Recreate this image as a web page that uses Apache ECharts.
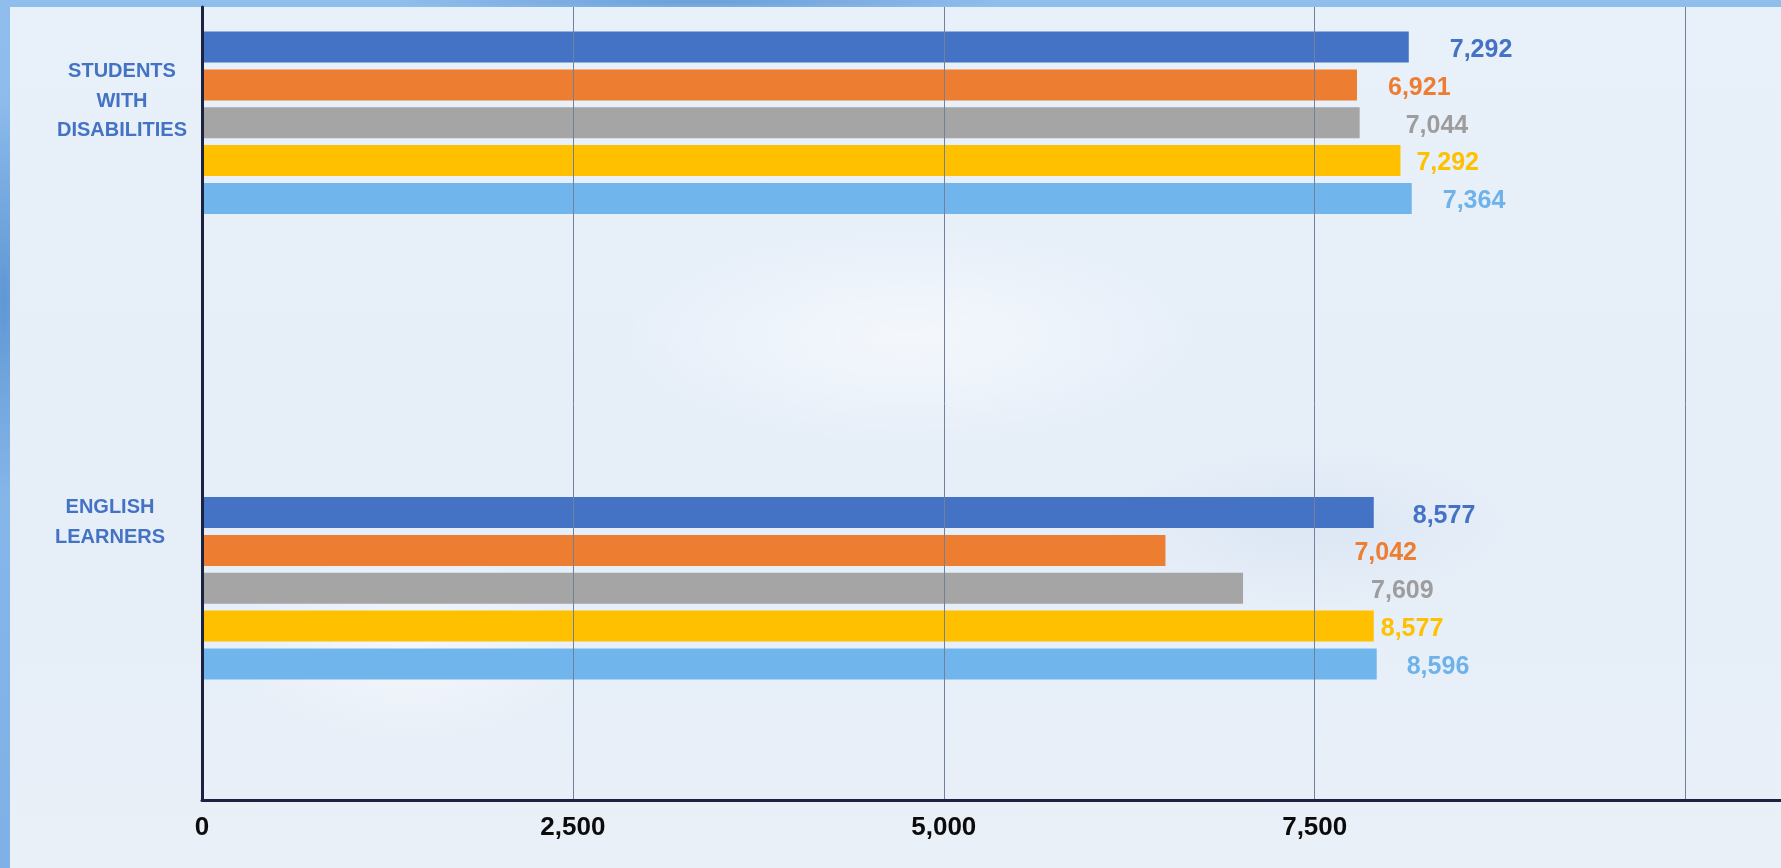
<!DOCTYPE html>
<html>
<head>
<meta charset="utf-8">
<script src="https://cdn.jsdelivr.net/npm/echarts@6/dist/echarts.min.js"></script>
<style>
  html, body { margin: 0; padding: 0; width: 1781px; height: 868px; overflow: hidden; }
  body {
    background:
      radial-gradient(ellipse 40px 200px at 4px 300px, #5f97d4 0%, rgba(95,151,212,0) 100%),
      radial-gradient(ellipse 300px 10px at 700px 2px, #6a9fd8 0%, rgba(106,159,216,0) 100%),
      linear-gradient(180deg, #8fbdec, #7fb1e6);
  }
  #panel {
    position: absolute; left: 10px; top: 7px; right: 0; bottom: 0;
    background:
      radial-gradient(ellipse 420px 160px at 900px 330px, rgba(255,255,255,0.55), rgba(255,255,255,0) 70%),
      radial-gradient(ellipse 300px 120px at 1300px 520px, rgba(210,224,240,0.5), rgba(210,224,240,0) 70%),
      radial-gradient(ellipse 260px 140px at 400px 640px, rgba(255,255,255,0.5), rgba(255,255,255,0) 70%),
      linear-gradient(180deg, #e8f0f9, #e6eef8 60%, #e9f0f8);
  }
  #chart { position: absolute; left: 0; top: 0; width: 1781px; height: 868px; }
</style>
</head>
<body>
<div id="panel"></div>
<div id="chart"></div>
<script>
// categories, top to bottom
const categories = ['STUDENTS\nWITH\nDISABILITIES', 'ENGLISH\nLEARNERS']
const seriesNames = ['Series 1', 'Series 2', 'Series 3', 'Series 4', 'Series 5']
// bar lengths as drawn against the axis
const barsSWD = [8134, 7785, 7803, 8078, 8154]
const barsEL = [7898, 6494, 7017, 7898, 7918]
// values printed next to the bars
const labelsSWD = [7292, 6921, 7044, 7292, 7364]
const labelsEL = [8577, 7042, 7609, 8577, 8596]
// x axis tick labels shown
const xTickLabels = [0, 2500, 5000, 7500]

const colors = ['#4472C4', '#ED7D31', '#A5A5A5', '#FFC000', '#70B5EC']
const labelColors = ['#4472C4', '#ED7D31', '#9D9D9D', '#FFC000', '#6DB3EA']
// horizontal shift of each printed value from its bar end (px)
const gapSWD = [41, 31, 46, 16, 31]
const gapEL = [39, 189, 128, 7, 30]

const font = '"Liberation Sans", Arial, sans-serif'
const xMax = 10643

const chart = echarts.init(document.getElementById('chart'))

const series = seriesNames.map((name, i) => ({
  name: name,
  type: 'bar',
  xAxisIndex: 1,
  yAxisIndex: 1,
  barWidth: 31,
  barGap: '22%',
  itemStyle: { color: colors[i] },
  label: {
    show: true,
    position: 'right',
    distance: 0,
    color: labelColors[i],
    fontFamily: font,
    fontWeight: 'bold',
    fontSize: 25,
    formatter: (p) => {
      const v = p.dataIndex === 0 ? labelsSWD[i] : labelsEL[i]
      return v.toLocaleString('en-US')
    }
  },
  data: [
    { value: barsSWD[i], label: { offset: [gapSWD[i], 3] } },
    { value: barsEL[i], label: { offset: [gapEL[i], 3] } }
  ]
}))

const catText = {
  align: 'center',
  verticalAlign: 'middle',
  color: '#4472C4',
  fontFamily: font,
  fontWeight: 'bold',
  fontSize: 20,
  lineHeight: 29.5
}

chart.setOption({
  animation: false,
  grid: [
    { left: 202, right: 0, top: 7, bottom: 68, outerBoundsMode: 'none' },
    { left: 202, right: 0, top: -110, height: 931, outerBoundsMode: 'none' }
  ],
  xAxis: [
    {
      gridIndex: 0,
      type: 'value',
      min: 0,
      max: xMax,
      interval: 2500,
      z: 10,
      axisLine: { show: true, lineStyle: { color: '#1b2340', width: 3 } },
      axisTick: { show: false },
      splitLine: { show: true, lineStyle: { color: '#728099', width: 1 } },
      axisLabel: {
        margin: 15,
        color: '#0b0b0b',
        fontFamily: font,
        fontWeight: 'bold',
        fontSize: 26,
        formatter: (v) => xTickLabels.indexOf(v) >= 0 ? v.toLocaleString('en-US') : ''
      }
    },
    { gridIndex: 1, type: 'value', min: 0, max: xMax, show: false }
  ],
  yAxis: [
    {
      gridIndex: 0,
      type: 'category',
      data: categories,
      z: 10,
      axisLine: { show: true, lineStyle: { color: '#1b2340', width: 3 } },
      axisTick: { show: false },
      axisLabel: { show: false },
      splitLine: { show: false }
    },
    {
      gridIndex: 1,
      type: 'category',
      inverse: true,
      data: [
        { value: categories[0], textStyle: Object.assign({}, catText, { padding: [0, 0, 0, 12] }) },
        { value: categories[1], textStyle: Object.assign({}, catText, { padding: [0, 12, 0, 0] }) }
      ],
      axisLine: { show: false },
      axisTick: { show: false },
      splitLine: { show: false },
      axisLabel: Object.assign({
        margin: 86,
        // blank line under each name lifts it toward the top of its band
        formatter: (v, idx) => v + (idx === 0 ? '\n{s0| }' : '\n{s1| }'),
        rich: {
          s0: { fontSize: 10, lineHeight: 43 },
          s1: { fontSize: 10, lineHeight: 132 }
        }
      }, catText)
    }
  ],
  series: series
})
</script>
</body>
</html>
